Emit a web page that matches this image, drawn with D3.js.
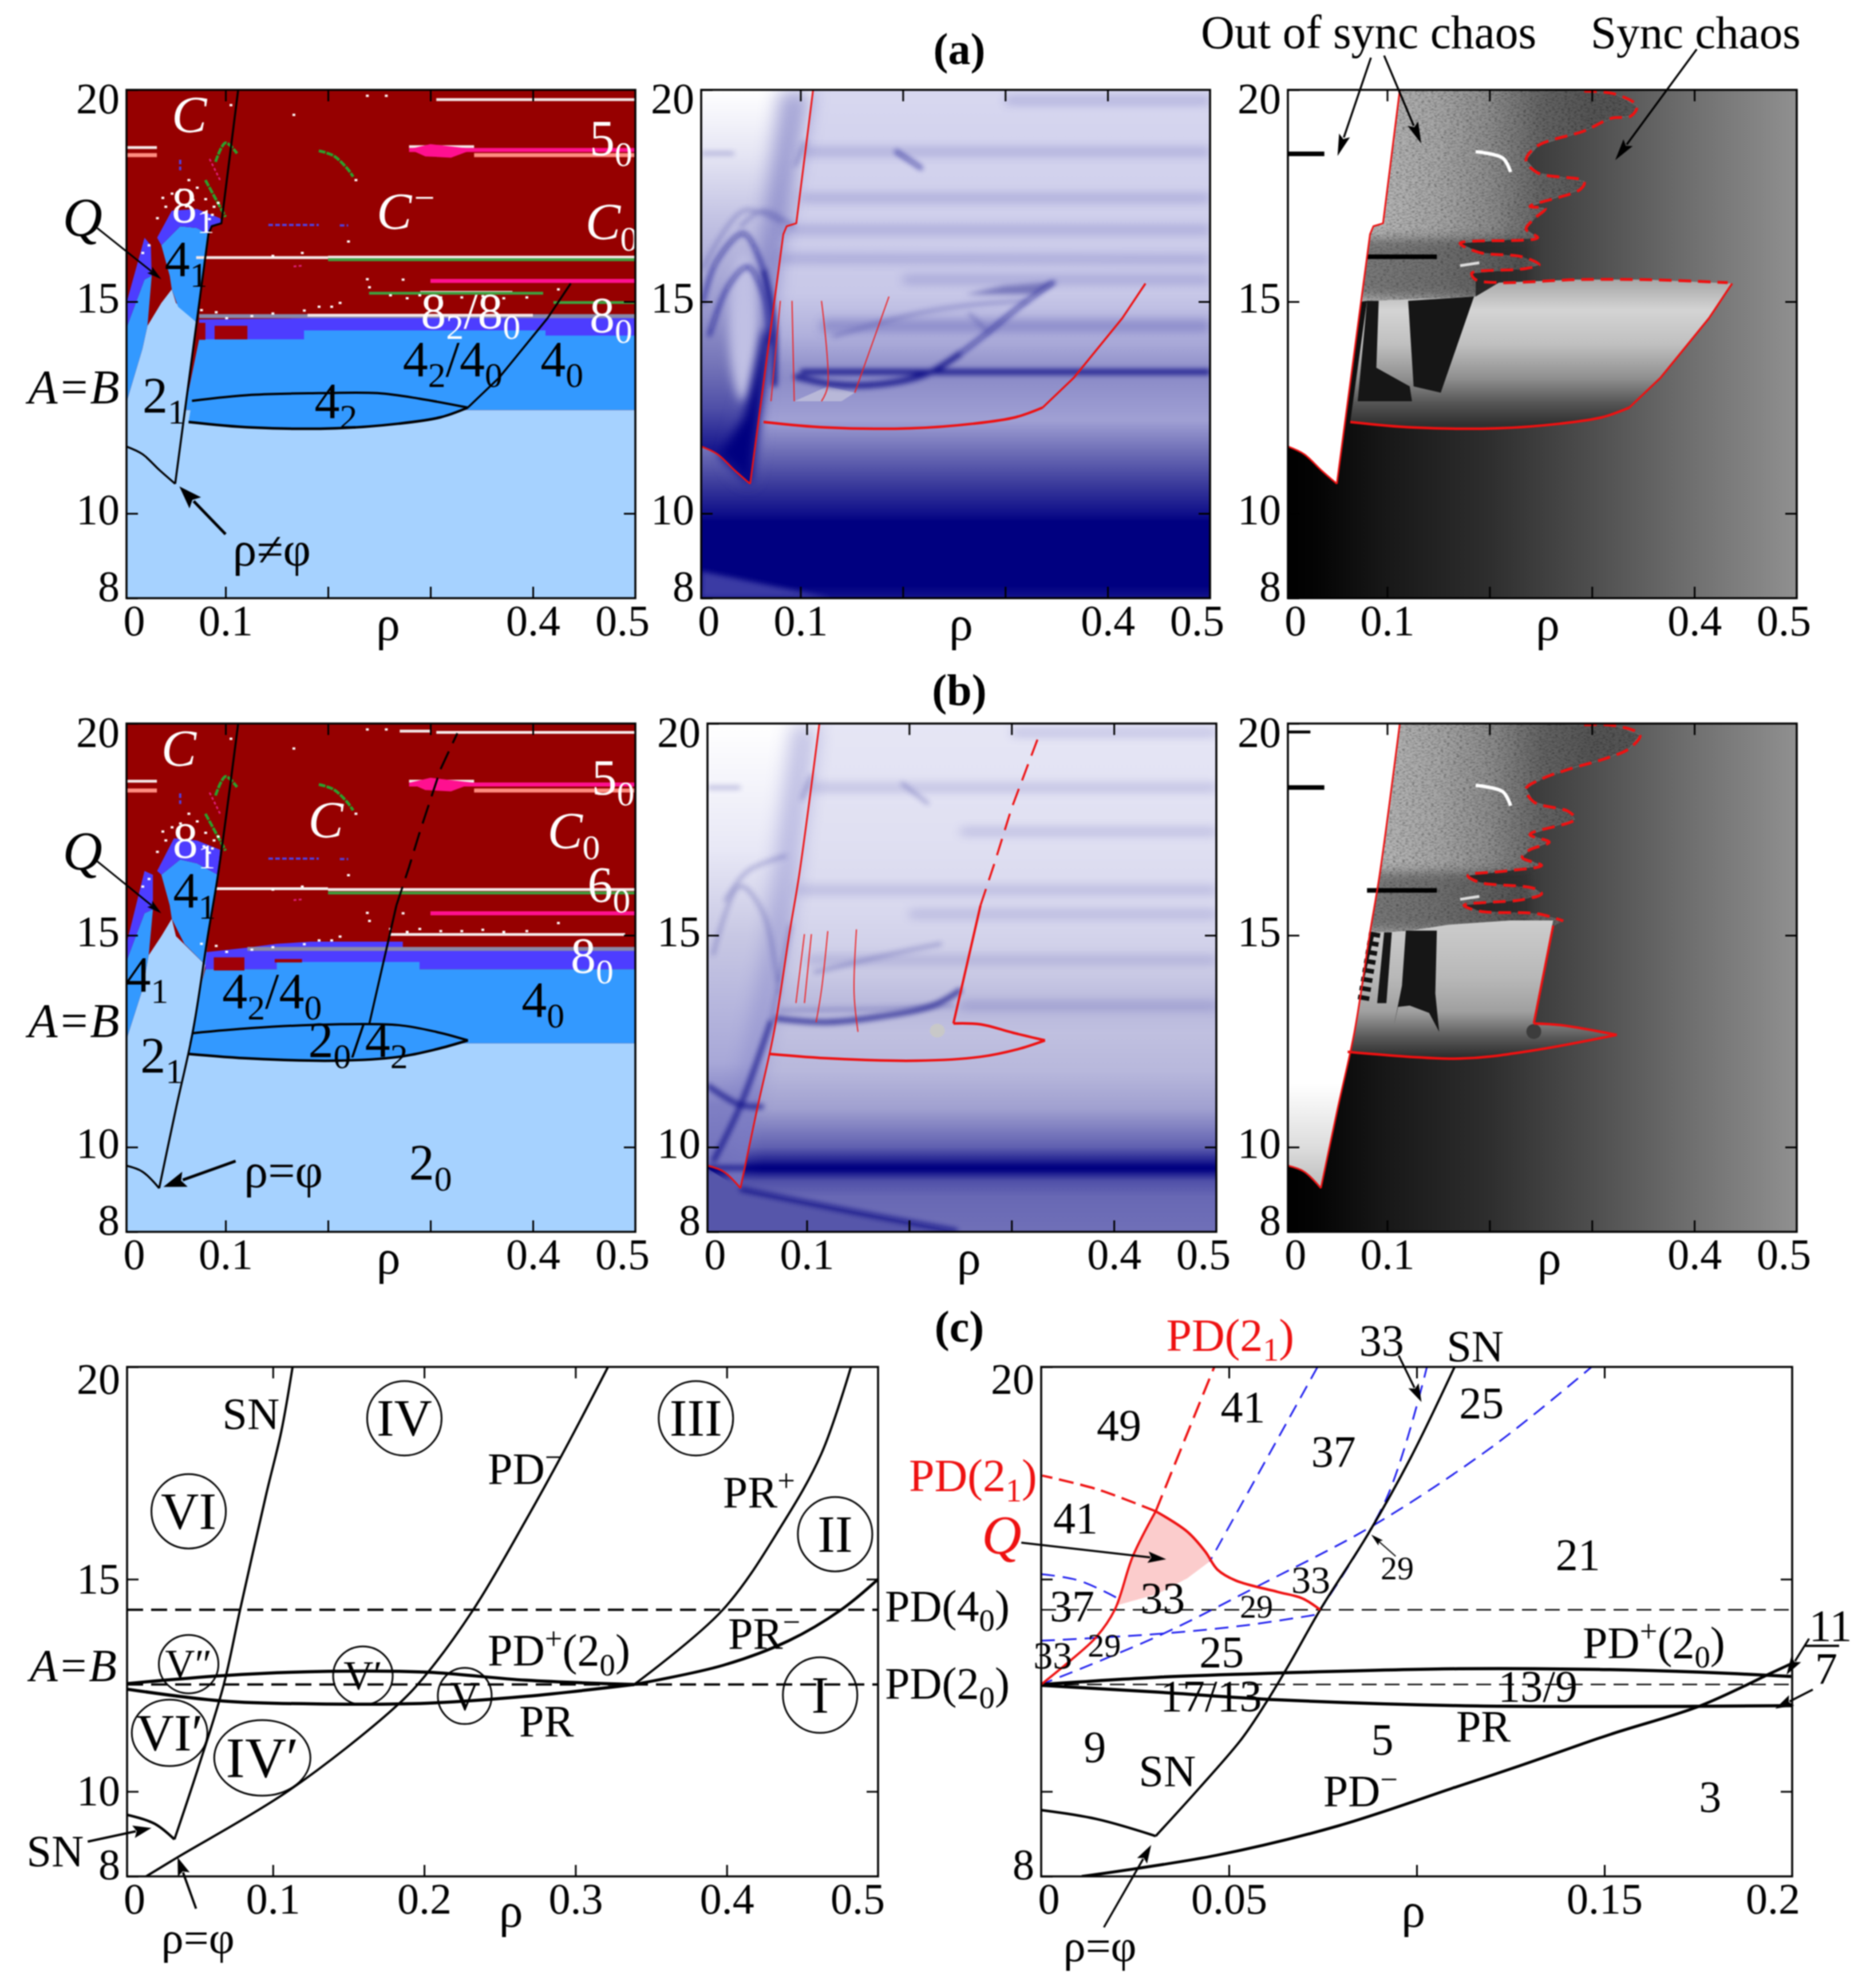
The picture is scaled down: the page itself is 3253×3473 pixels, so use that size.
<!DOCTYPE html>
<html lang="en">
<head>
<meta charset="utf-8">
<title>Bifurcation diagrams in the (rho, A=B) plane</title>
<script src="https://cdnjs.cloudflare.com/ajax/libs/d3/7.8.5/d3.min.js"></script>
<style>
  body { margin: 0; background: #fff; }
  svg { display: block; filter: blur(0.9px); }
  text { font-family: "Liberation Serif", serif; }
</style>
</head>
<body>
<div id="chart"></div>
<script>
// ---- curves, all as [rho, A] ----
var snA = [[.0508,10.70],[.0832,16.59],[.0865,16.78],[.0959,16.85],[.1123,20]];
var cuspA = [[.0033,11.58],[.0189,11.40],[.0352,11.03],[.0508,10.70]];
var lensTopA = [[.0672,12.66],[.1254,12.80],[.191,12.84],[.2484,12.84],[.2893,12.71],[.3365,12.50]];
var lensBotA = [[.0639,12.16],[.1254,12.03],[.2074,12.01],[.2689,12.12],[.3098,12.27],[.3365,12.50]];
var upperA = [[.3365,12.50],[.3672,13.21],[.4143,14.61],[.4369,15.43]];

var snB = [[.0352,9.03],[.0516,10.91],[.068,12.72],[.0832,15.07],[.0926,16.43],[.1123,20]];
var cuspB = [[.0033,9.56],[.0189,9.42],[.0352,9.03]];
var lensTopB = [[.068,12.69],[.1254,12.81],[.2074,12.90],[.2689,12.88],[.3057,12.72],[.3365,12.52]];
var lensBotB = [[.0639,12.20],[.1254,12.09],[.2074,12.04],[.2689,12.13],[.3057,12.31],[.3365,12.52]];
var pdSolidB = [[.2402,12.90],[.2668,15.71]];
var pdDashB = [[.2668,15.71],[.2791,16.61],[.2893,17.42],[.3098,18.92],[.3262,19.77]];
var pdSolidB2 = [[.2432,12.92],[.2697,15.71]];
var pdDashB2 = [[.2697,15.71],[.2833,16.7],[.3,18],[.3265,19.70]];
var lensTipB2 = [[.2432,12.92],[.2697,12.9],[.3015,12.7],[.3326,12.52]];
var lensBotB2 = [[.0639,12.20],[.1254,12.09],[.2074,12.04],[.2689,12.13],[.3057,12.31],[.3326,12.52]];
var lensBotB3 = [[.0614,12.25],[.1712,12.09],[.2394,12.27],[.3242,12.65]];
var lensTipB3 = [[.3242,12.65],[.2697,12.88],[.2432,12.92]];

// red dashed border between out of sync and sync chaos
var chaosEdgeA = [[.2924,19.97],[.3227,19.90],[.3439,19.62],[.3379,19.38],[.3189,19.33],[.2924,19.03],[.247,18.68],[.2356,18.34],[.247,18.04],[.2924,17.84],[.2886,17.65],[.2394,17.25],[.2545,17.20],[.2432,16.95],[.2356,16.71],[.247,16.51],[.1712,16.38],[.1902,16.16],[.2318,16.06],[.2485,15.87],[.2318,15.77],[.1826,15.67],[.1864,15.52],[.2091,15.45],[.2848,15.52],[.353,15.52],[.4326,15.45]];
var chaosEdgeB = [[.2924,19.97],[.3227,19.95],[.347,19.73],[.3364,19.41],[.3152,19.19],[.2773,18.92],[.2508,18.69],[.2356,18.46],[.2432,18.15],[.2773,17.92],[.2833,17.74],[.2394,17.38],[.2583,17.20],[.2394,17.02],[.2318,16.84],[.2508,16.65],[.2167,16.52],[.1788,16.41],[.1902,16.25],[.2432,16.11],[.2508,15.98],[.2318,15.84],[.175,15.71],[.1902,15.57],[.247,15.51],[.272,15.34]];

// thin red lines inside the bowl
var thinA = [
  [[.0803,15.02],[.0712,12.65]],
  [[.0917,15.02],[.0939,12.65]],
  [[.1205,15.02],[.1265,13.0],[.1205,12.65]],
  [[.1864,15.12],[.153,12.85]]
];
var thinB = [
  [[.0894,13.4],[.0977,15.03]],
  [[.0977,13.4],[.1045,15.03]],
  [[.1091,12.95],[.1144,13.72],[.1205,15.10]],
  [[.15,12.72],[.1462,13.63],[.1485,15.14]]
];

// colour regions of the first column
var wedge2A = [[.0033,12.62],[.0189,13.89],[.0238,14.43],[.0373,14.97],[.0475,15.29],[.0516,14.97],[.0713,14.52],[.0508,10.70],[.0033,10.7]];
var blue4A = [[.0475,15.29],[.0455,15.61],[.0373,16.33],[.0557,16.78],[.0721,16.74],[.0832,16.59],[.0713,14.52],[.0537,14.88]];
var purple8A = [[.0373,16.33],[.0332,16.51],[.0475,17.15],[.0721,17.19],[.0947,16.97],[.0967,16.86],[.0865,16.78],[.0832,16.59],[.0721,16.74],[.0557,16.78]];
var blueLeftA = [[.0033,12.62],[.0189,13.89],[.0238,14.43],[.0279,15.61],[.0209,15.52],[.0033,14.38]];
var purpleLeftA = [[.0033,14.38],[.0209,15.52],[.0279,15.61],[.0271,16.33],[.0209,16.51],[.0033,14.97]];
var midBandA = [[.06,12.44],[.5,12.44],[.5,14.2],[.4123,14.2],[.4123,14.32],[.1766,14.32],[.1766,14.11],[.0742,14.11]];
var purpleBandA = [[.0742,14.1],[.5,14.1],[.5,14.68],[.1828,14.68],[.1828,14.61],[.0742,14.58]];
var redBlocksA = [[.0893,.1213,14.11,14.43],[.0742,.0803,14.1,14.5]];

var wedge2B = [[.0033,12.54],[.0189,13.72],[.025,14.53],[.0373,14.98],[.0475,15.39],[.0516,14.98],[.0803,14.3],[.0352,9.03],[.0033,9.56]];
var blue4B = [[.0475,15.39],[.0455,15.71],[.0373,16.43],[.0557,16.79],[.0721,16.7],[.0926,16.43],[.0832,15.07],[.0803,14.3],[.0598,14.8]];
var purple8B = [[.0373,16.43],[.0332,16.52],[.0496,17.29],[.0721,17.24],[.0947,17.02],[.0926,16.43],[.0721,16.7],[.0557,16.79]];
var blueLeftB = [[.0033,12.54],[.0189,13.72],[.025,14.53],[.0291,15.61],[.0209,15.52],[.0033,14.39]];
var purpleLeftB = [[.0033,14.39],[.0209,15.52],[.0291,15.61],[.0291,16.43],[.0209,16.52],[.0033,14.8]];
var midBandB = [[.06,12.45],[.5,12.45],[.5,14.2],[.2893,14.2],[.2893,14.37],[.15,14.37],[.15,14.2],[.0803,14.2]];
var purpleBandB = [[.0803,14.2],[.5,14.2],[.5,14.71],[.273,14.71],[.273,14.85],[.1828,14.85],[.15,14.8],[.1213,14.71],[.0803,14.6]];
var redBlocksB = [[.0885,.1184,14.17,14.48],[.148,.1746,14.36,14.44]];

// thin horizontal windows: [rho0, rho1, A]
var whiteRowsA = [[.3057,.5,19.77],[.2791,.3426,18.66],[.0033,.033,18.64],[.0713,.2,16.04],[.2,.5,16.05],[.29,.38,15.22],[.18,.4,14.68]];
var pinkRowsA = [[.2791,.5,18.58],[.3,.5,15.49]];
var salmonRowsA = [[.3426,.5,18.46],[.0033,.033,18.46]];
var greenRowsA = [[.2,.5,15.99],[.42,.5,14.98],[.24,.41,15.2]];
var whiteRowsB = [[.3057,.5,19.79],[.27,.3,19.82],[.2791,.3426,18.64],[.0033,.033,18.64],[.0903,.2,16.1],[.2,.5,16.08],[.26,.49,15.02]];
var pinkRowsB = [[.2791,.5,18.56],[.3,.5,15.52]];
var salmonRowsB = [[.3426,.5,18.42],[.0033,.033,18.42]];
var greenRowsB = [[.2,.5,16.0]];
var grayRowsB = [[.1213,.5,14.68]];

var pinkBlob = [[.2791,18.6],[.3,18.72],[.3426,18.6],[.32,18.4],[.295,18.43]];
var greenArcs = [
  [[.0902,18.3],[.1,18.75],[.1112,18.5]],
  [[.191,18.56],[.205,18.45],[.2189,18.14],[.2245,17.95]],
  [[.0803,17.87],[.1,17.0]]
];
var purpleStreaks = [[[.1418,16.81],[.191,16.81]],[[.2115,16.8],[.2197,16.8]],[[.0557,18.35],[.0557,18.1]]];
var magentaStreaks = [[[.0844,18.37],[.0951,17.85]],[[.1664,15.83],[.1746,15.85]]];
var specks = [[.105,19.64],[.1664,19.41],[.2381,19.86],[.2566,19.86],[.227,17.87],[.0885,17.24],[.0803,17.42],[.0721,17.69],[.0639,17.87],[.0557,17.64],[.0414,17.24],[.0332,16.97],[.025,16.33],[.0189,16.15],[.0926,17.33],[.2197,16.42],[.1746,16.15],[.1459,16.08],[.2381,15.53],[.273,15.52],[.2402,15.34],[.2607,15.15],[.277,15.08],[.2893,15.15],[.3098,15.1],[.3303,15.1],[.3508,15.13],[.3713,15.08],[.3938,15.1],[.4246,15.29],[.2115,14.97],[.2033,14.88],[.191,14.88],[.1766,14.79],[.1459,14.72],[.1254,14.66],[.1008,14.61],[.0906,14.75],[.0762,14.8],[.0868,17.05],[.0475,17.55],[.068,17.4],[.0615,17.25],[.0786,17.1],[.084,16.95],[.0385,17.45]];

// blue column: background ramps against A
var a2BandA = [8,8.3,9.8,10,10.7,11.4,12.2,13.2,13.5,14.2,15.2,17.15,19,20];
var a2BandC = ["#14148c","#000080","#000080","#10108a","#3c3c9c","#6a6ab4","#a0a0d4","#8c8cc8","#9494cc","#b0b0dc","#c8c8e8","#d0d0ec","#d4d4ee","#d8d8f0"];
var a2WedgeA = [11,11.6,12.5,13.5,15,17,18.5,20];
var a2WedgeC = ["#000080","#1c1c90","#5050a8","#7474b8","#9c9cd0","#c4c4e4","#e6e6f4","#ffffff"];
var b2BandA = [8,8.83,9.2,9.5,9.83,10,10.9,11.8,12.7,13.3,14.2,15.5,17.3,20];
var b2BandC = ["#7070b8","#6868b4","#5050a8","#000080","#4040a0","#6060b0","#a0a0d0","#b8b8dc","#c0c0e0","#b8b8dc","#ccccE6","#d8d8ee","#e0e0f2","#e6e6f5"];
var b2WedgeA = [9,9.5,11,12,15,17,20];
var b2WedgeC = ["#7070bc","#7070bc","#8080c4","#a8a8d8","#c8c8e4","#e8e8f6","#ffffff"];

// soft dark features of the blue column
var a2Strong = [
  [[.1,13.34],[.5,13.34]],
  [[.0939,13.24],[.1318,13.05],[.1773,13.05],[.2227,13.29],[.2568,13.79]],
  [[.0636,15.77],[.0735,14.58],[.0745,13]]
];
var a2Medium = [
  [[.2568,13.79],[.2833,14.28],[.3136,14.88],[.3477,15.47]],
  [[.0045,14.98],[.0182,15.96],[.0447,16.61],[.0636,15.77]],
  [[.0106,14.18],[.0295,15.37],[.0485,15.82],[.0636,15.17],[.0697,13.99]],
  [[.1924,18.56],[.2189,18.14]]
];
var a2Faint = [
  [[.2644,14.73],[.2833,14.28]],
  [[.1318,14.18],[.2152,14.73],[.2682,14.93],[.3212,15.02]],
  [[.0045,15.77],[.0447,17.15],[.0826,16.85]],
  [[.0409,16.76],[.0636,17.15],[.0939,16.76]],
  [[.0033,18.5],[.035,18.5]],[[.095,18.2],[.105,18.8]]
];
var a2Rows = [
  [[.1,18.54],[.5,18.54]],[[.3,19.75],[.5,19.75]],
  [[.1,17.45],[.5,17.45]],[[.08,16.7],[.5,16.7]],[[.08,16.02],[.5,16.0]],
  [[.2,15.52],[.5,15.52]],[[.12,14.5],[.5,14.5]],[[.12,14.36],[.5,14.36]]
];
var a2Lighter = [[.003,8.64],[.13,8],[.003,8]];
var a2Blotch = [[.2985,15.37],[.3515,15.47],[.3288,15.17],[.2606,15.17]];
var a2Pale = [[.0939,12.65],[.1265,13.0],[.153,12.85],[.14,12.65]];
var a2SnShade = [[.0508,10.7],[.0713,14.6],[.0832,16.6],[.1123,20],[.08,20],[.06,16],[.05,13],[.03,11.2]];
var a2Navy = [[.0508,10.7],[.0713,14.3],[.064,14.3],[.045,12.3],[.02,11.4]];
var lobe = [[.0447,14.4]];

var b2Strong = [
  [[.0348,9.01],[.14,8.5],[.247,8.02]],
  [[.0083,9.65],[.0348,10.96],[.0652,12.99]],
  [[.003,11.46],[.0348,11.0],[.0576,10.96]],
  [[.0689,13.04],[.1182,12.95],[.1712,13.08],[.2242,13.35],[.2508,13.72]],
  [[.003,9.51],[.5,9.51]]
];
var b2Faint = [
  [[.0652,12.99],[.0841,15.25]],
  [[.0727,13.22],[.1182,13.24],[.1712,13.26],[.2432,13.35]],
  [[.1068,14.12],[.1939,14.62],[.2318,14.8]],
  [[.0083,14.53],[.0348,16.16],[.0576,15.52],[.0727,13.63]],
  [[.0197,15.8],[.0424,16.52],[.0803,16.88]],
  [[.0033,18.49],[.035,18.49]],[[.1924,18.6],[.2189,18.1]],[[.095,18.2],[.105,18.8]]
];
var b2Rows = [
  [[.25,13.34],[.5,13.34]],
  [[.1,14.42],[.5,14.42]],[[.1,18.49],[.5,18.49]],[[.3,19.79],[.5,19.79]],
  [[.09,16.07],[.5,16.07]],[[.2,15.5],[.5,15.5]],[[.25,17.45],[.5,17.45]]
];
var b2UnderCusp = [[.003,9.5],[.0352,9.0],[.247,8],[.003,8]];
var b2SnShade = [[.0352,9.1],[.0832,15.07],[.1123,20],[.085,20],[.06,15],[.03,11]];
var b2Grey = [[.2275,12.75]];

// grey column: background ramp against rho
var grayRho = [0,.03,.1,.2,.3,.4,.5];
var grayLevel = [0,4,24,46,78,112,144];
var noiseRho = [0,.08,.15,.2,.25,.3,.5];
var noiseLevel = [185,185,165,140,100,84,84];
var darkBand = [[.07,15.1],[.24,15.1],[.24,16.5],[.07,16.5]];
var bowlA3A = [12.1,12.6,13.2,14,14.8,15.5];
var bowlA3C = ["#303030","#555555","#909090","#c0c0c0","#d4d4d4","#a8a8a8"];
var bowlB3A = [12.1,12.6,13.2,14,15.3];
var bowlB3C = ["#2a2a2a","#5a5a5a","#a0a0a0","#b8b8b8","#cccccc"];
var wedgeB3A = [9,10,11.5,20];
var wedgeB3C = ["#bbbbbb","#dddddd","#ffffff","#ffffff"];

var bowlTopA3 = [[.353,15.52],[.2848,15.52],[.2091,15.45],[.1864,15.12],[.0803,15.02]];
var bowlTopB3 = [[.2432,12.92],[.2621,15.35],[.22,15.35],[.16,15.25],[.12,15.1],[.0879,15.07]];
var blackA3 = [
  [[.0803,15.02],[.0917,15.02],[.0894,13.44],[.122,13.0],[.1242,12.65],[.0712,12.65]],
  [[.1205,15.02],[.1848,15.12],[.1523,12.85],[.1258,13.0]]
];
var blackB3 = [
  [[.1182,15.11],[.1485,15.11],[.147,13.63],[.1508,12.72],[.1409,13.17],[.122,13.34],[.1106,13.31],[.1068,12.9],[.1144,13.81]],
  [[.097,15.07],[.1045,15.07],[.0992,13.4],[.0902,13.4]]
];
var checkerB3 = [[.0879,15.07],[.0765,13.45]];
var whiteArc = [[.1864,18.54],[.2129,18.39],[.2205,18.06]];
var blackStreaks = [[[.0023,18.49],[.0386,18.49]],[[.0803,16.06],[.1485,16.06]]];
var fadeStreak = [[.1712,15.85],[.19,15.92]];
var streakTopB3 = [[.0033,19.8],[.025,19.8]];
var blobB3 = [[.2432,12.73]];

// bottom row
var snC = [[.0349,8.87],[.0501,10.5],[.0674,12.5],[.0783,14.28],[.0957,17.02],[.1056,18.49],[.113,20]];
var cuspC = [[.0036,9.45],[.0218,9.24],[.0349,8.87]];
var pdMinusC = [[.0162,8],[.037,8.45],[.1109,10.03],[.1803,11.97],[.2,12.7],[.2324,14.28],[.2672,16.39],[.2932,18.07],[.3215,20]];
var prPlusC = [[.3388,12.52],[.3974,14.28],[.4365,16.28],[.4626,17.96],[.4821,20]];
var prMinusC = [[.3388,12.52],[.3974,12.97],[.4409,13.55],[.4756,14.28],[.5,15]];
var lensTopC = [[.0036,12.54],[.0674,12.73],[.1369,12.83],[.202,12.81],[.2672,12.62],[.3388,12.52]];
var lensBotC = [[.0036,12.41],[.0674,12.13],[.1369,12.06],[.202,12.08],[.2672,12.24],[.3388,12.52]];
var pd40 = 14.28, pd20 = 12.52;

var snD = [[.0305,8.95],[.0421,10.08],[.0534,11.24],[.0598,12.08],[.0662,13.02],[.0743,14.28],[.0871,16.07],[.0984,17.86],[.1101,20]];
var cuspD = [[0,9.56],[.0148,9.35],[.0305,8.95]];
var pdMinusD = [[.0108,8],[.0469,8.5],[.0791,9.19],[.1113,10.13],[.1273,10.6],[.1514,11.34],[.1756,12.02],[.1949,12.81],[.2,13.02]];
var lensTopD = [[0,12.52],[.0309,12.69],[.063,12.79],[.1113,12.89],[.1514,12.87],[.1756,12.81],[.1997,12.71]];
var lensBotD = [[0,12.5],[.0309,12.34],[.063,12.16],[.1113,12.02],[.1514,12],[.2,12.02]];
var redSolidD = [[0,12.52],[.0084,13.13],[.0148,13.65],[.0196,14.28],[.0244,15.54],[.0305,16.6]];
var redDashUpD = [[.0305,16.6],[.0461,20]];
var redDashLeftD = [[.0305,16.6],[.0148,17.12],[.0003,17.44]];
var redCapD = [[.0305,16.6],[.0389,16.12],[.0437,15.65],[.0469,15.23],[.0518,14.97],[.063,14.7],[.0695,14.55],[.0743,14.28]];
var qFill = [[.0305,16.6],[.0389,16.12],[.0437,15.65],[.0449,15.42],[.0389,15.02],[.0309,14.65],[.0204,14.39],[.0244,15.54]];
var blueDashes = [
  [[.0736,20],[.0449,15.42]],
  [[.1029,20.06],[.092,16.91],[.0743,14.28]],
  [[.1474,20.06],[.1209,18.17],[.0887,16.28],[.0582,14.86],[.0309,13.65],[0,12.52]],
  [[0,15.12],[.01,14.97],[.0204,14.55]],
  [[0,13.55],[.0309,13.71],[.055,13.92],[.0743,14.18]]
];

// tick values
var xTicks = [0,.1,.2,.3,.4,.5];
var xTickNames = {0:"0",.1:"0.1",.4:"0.4",.5:"0.5"};
var xTickNamesC = {0:"0",.1:"0.1",.2:"0.2",.3:"0.3",.4:"0.4",.5:"0.5"};
var xTicksD = [0,.05,.1,.15,.2];
var xTickNamesD = {0:"0",.05:"0.05",.15:"0.15",.2:"0.2"};
var yTicks = [8,10,15,20];
var yTickNamesD = {8:"8",20:"20"};

// labels: [text, rho, A]; _x is a subscript, ^x a superscript
var a1White = [["5_0",.4553,18.46],["8_1",.0475,16.88],["8_2/8_0",.2906,14.38],["8_0",.4553,14.29]];
var a1WhiteItalic = [["C",.0475,19.0],["C^−",.2475,16.71],["C",.4512,16.47]];
var a1WhiteSub = [["_0",.4852,16.47]];
var a1Black = [["4_1",.0406,15.61],["4_2/4_0",.273,13.25],["4_0",.4074,13.25],["4_2",.1869,12.26],["2_1",.0189,12.39]];
var b1White = [["5_0",.4574,18.33],["6_0",.4533,15.8],["8_0",.4369,14.12],["8_1",.0484,16.84]];
var b1WhiteItalic = [["C",.0373,19.0],["C",.1807,17.31],["C",.4143,17.06]];
var b1WhiteSub = [["_0",.4483,17.06]];
var b1Black = [["4_1",.0488,15.66],["4_1",.0025,13.67],["4_2/4_0",.0967,13.28],["2_0/4_2",.1807,12.13],["4_0",.3889,13.08],["2_1",.0168,11.77],["2_0",.2791,9.24]];

var cCircles = [["VI",.0443,16.6,65,65],["IV",.1869,18.79,65,65],["III",.3796,18.79,65,65],["II",.4716,16.06,65,65],["V″",.0443,13.0,52,51],["V′",.1595,12.73,52,51],["V",.2268,12.25,47,49],["VI′",.0317,11.38,66,58],["IV′",.093,10.79,84,66],["I",.4617,12.27,65,66]];
var cLabels = [["SN",.0666,18.54],["PD^−",.242,17.25],["PR^+",.3974,16.7],["PD^+(2_0)",.242,12.97],["PR^−",.4009,13.36],["PR",.2628,11.31],["PD(4_0)",.5045,14.02],["PD(2_0)",.5045,12.2],["SN",-.0628,8.24],["ρ=φ",.0262,6.19]];
var dLabels = [["33",.0847,20.27],["SN",.108,20.14],["49",.0148,18.28],["41",.0478,18.7],["37",.0719,17.65],["41",.0032,16.09],["21",.137,15.23],["33",.0264,14.2],["37",.0023,14.02],["PD^+(2_0)",.1442,13.15],["13/9",.1217,12.13],["17/13",.0317,11.89],["9",.0113,10.69],["SN",.026,10.13],["5",.0879,10.87],["PR",.1105,11.18],["PD^−",.0751,9.66],["3",.1752,9.53],["25",.1113,18.8],["25",.0421,12.94],["11",.2045,13.55],["7",.2061,12.55],["ρ=φ",.0059,6.0]];
var dSmall = [["29",.0904,15.0],["29",.0529,14.09],["29",.0124,13.18]];
var dMedium = [["33",.0666,14.68],["33",-.0021,12.9]];
var dRed = [["PD(2_1)",.0333,20.38],["PD(2_1)",-.0352,17.07]];

// arrows: [rho0, A0, rho1, A1]
var a1Arrows = [[-.0254,16.74,.0373,15.53]];
var a1Bold = [[.1,9.51,.0549,10.64]];
var a3Arrows = [[.0841,20.76,.0515,18.44],[.097,20.81,.1333,18.73],[.4023,20.96,.3227,18.34]];
var b1Arrows = [[-.0254,16.75,.0373,15.52]];
var b1Bold = [[.1098,9.67,.0393,9.06]];
var cArrows = [[-.0224,8.82,.0197,9.14],[.0492,7.24,.037,8.45]];
var dArrows = [[.0167,6.8,.0293,8.74],[.0952,20.27,.1013,19.17],[-.0053,15.86,.0333,15.47],[.2045,13.6,.1985,12.75],[.2055,12.4,.1955,11.95]];
var dThinArrows = [[.0944,15.54,.0879,16.05]];

// ---- layout ----
var svg = d3.select("#chart").append("svg").attr("width",3253).attr("height",3473);
var defs = svg.append("defs");
var idCount = 0;

function blurFilter(id, dev) {
  defs.append("filter").attr("id",id).attr("filterUnits","userSpaceOnUse")
    .attr("x",0).attr("y",0).attr("width",3253).attr("height",3473)
    .append("feGaussianBlur").attr("stdDeviation",dev);
}
blurFilter("soft",5);
blurFilter("softMid",9);
blurFilter("softWide",16);

var noise = defs.append("filter").attr("id","noise").attr("filterUnits","userSpaceOnUse")
  .attr("x",0).attr("y",0).attr("width",3253).attr("height",3473)
  .attr("color-interpolation-filters","sRGB");
noise.append("feTurbulence").attr("type","fractalNoise").attr("baseFrequency","0.18 0.6").attr("numOctaves",2).attr("seed",4).attr("result","t");
noise.append("feColorMatrix").attr("in","t").attr("type","matrix")
  .attr("values","1.1 0 0 0 .42  1.1 0 0 0 .42  1.1 0 0 0 .42  0 0 0 0 1").attr("result","g");
noise.append("feBlend").attr("in","SourceGraphic").attr("in2","g").attr("mode","multiply").attr("result","m");
noise.append("feComposite").attr("in","m").attr("in2","SourceAlpha").attr("operator","in");

function panel(left, top, w, h, xDom) {
  var p = {};
  p.x = d3.scaleLinear().domain(xDom).range([left, left+w]);
  p.y = d3.scaleLinear().domain([8,20]).range([top+h, top]);
  p.left = left; p.top = top; p.w = w; p.h = h;
  var id = "clip" + (idCount++);
  defs.append("clipPath").attr("id",id).append("rect")
    .attr("x",left).attr("y",top).attr("width",w).attr("height",h);
  p.marks = svg.append("g").attr("clip-path","url(#"+id+")");
  p.over = svg.append("g");
  p.line = d3.line().x(function(d){return p.x(d[0]);}).y(function(d){return p.y(d[1]);});
  p.poly = function(pts) { return p.line(pts) + "Z"; };
  return p;
}

function area(p, pts, fill, g) {
  return (g||p.marks).append("path").attr("d",p.poly(pts)).attr("fill",fill);
}
function curve(p, pts, color, width, dash, straight) {
  var l = d3.line().x(p.line.x()).y(p.line.y()).curve(straight ? d3.curveLinear : d3.curveCatmullRom.alpha(.5));
  return p.marks.append("path").attr("d",l(pts)).attr("fill","none")
    .attr("stroke",color).attr("stroke-width",width).attr("stroke-dasharray",dash||null)
    .attr("stroke-linejoin","round");
}
function block(p, b, fill) {
  p.marks.append("rect").attr("x",p.x(b[0])).attr("width",p.x(b[1])-p.x(b[0]))
    .attr("y",p.y(b[3])).attr("height",p.y(b[2])-p.y(b[3])).attr("fill",fill);
}
function rows(p, list, color, width) {
  p.marks.selectAll(null).data(list).enter().append("line")
    .attr("x1",function(d){return p.x(d[0]);}).attr("x2",function(d){return p.x(d[1]);})
    .attr("y1",function(d){return p.y(d[2]);}).attr("y2",function(d){return p.y(d[2]);})
    .attr("stroke",color).attr("stroke-width",width);
}
function softLines(p, list, width, color, opacity, blur) {
  var g = p.marks.append("g").attr("filter","url(#"+(blur||"soft")+")").attr("opacity",opacity);
  var l = d3.line().x(p.line.x()).y(p.line.y()).curve(d3.curveCatmullRom.alpha(.5));
  g.selectAll(null).data(list).enter().append("path").attr("d",l).attr("fill","none")
    .attr("stroke",color).attr("stroke-width",width);
}
// vertical gradient over A
function rampY(p, aVals, colors) {
  var id = "ramp" + (idCount++);
  var g = defs.append("linearGradient").attr("id",id).attr("gradientUnits","userSpaceOnUse")
    .attr("x1",0).attr("x2",0).attr("y1",p.y(aVals[0])).attr("y2",p.y(aVals[aVals.length-1]));
  var scale = d3.scaleLinear().domain([aVals[0],aVals[aVals.length-1]]).range([0,1]);
  aVals.forEach(function(a,i){ g.append("stop").attr("offset",scale(a)).attr("stop-color",colors[i]); });
  return "url(#"+id+")";
}
function rampX(p, rho, levels) {
  var id = "ramp" + (idCount++);
  var g = defs.append("linearGradient").attr("id",id).attr("gradientUnits","userSpaceOnUse")
    .attr("y1",0).attr("y2",0).attr("x1",p.x(rho[0])).attr("x2",p.x(rho[rho.length-1]));
  rho.forEach(function(r,i){ g.append("stop").attr("offset",r/rho[rho.length-1]).attr("stop-color",d3.rgb(levels[i],levels[i],levels[i])); });
  return "url(#"+id+")";
}
function background(p, fill) {
  p.marks.append("rect").attr("x",p.left).attr("y",p.top).attr("width",p.w).attr("height",p.h).attr("fill",fill);
}

function rich(sel, str) {
  var i = 0, shift = 0;
  while (i < str.length) {
    var c = str[i], target = 0, small = false, t = "";
    if (c === "_" || c === "^") { target = c === "_" ? .22 : -.36; small = true; t = str[i+1]; i += 2; }
    else { while (i < str.length && str[i] !== "_" && str[i] !== "^") t += str[i++]; }
    var sp = sel.append("tspan").text(t);
    var base = small ? .7 : 1;
    sp.attr("font-size",(base*parseFloat(sel.attr("font-size")))+"px");
    sp.attr("dy",((target-shift)*parseFloat(sel.attr("font-size")))+"px");
    shift = target;
  }
}
function labels(p, list, size, color, italic) {
  list.forEach(function(d) {
    var t = p.over.append("text").attr("x",p.x(d[1])).attr("y",p.y(d[2]))
      .attr("font-size",size).attr("fill",color).attr("font-style",italic?"italic":null);
    rich(t, d[0]);
  });
}
function freeText(str, x, y, size, weight, color, anchor) {
  svg.append("text").attr("x",x).attr("y",y).attr("font-size",size).attr("font-weight",weight||null)
    .attr("fill",color||"#000").attr("text-anchor",anchor||"start").text(str);
}
function arrows(p, list, width, headLen, headW, color) {
  list.forEach(function(a) {
    var x0=p.x(a[0]), y0=p.y(a[1]), x1=p.x(a[2]), y1=p.y(a[3]);
    var len=Math.hypot(x1-x0,y1-y0), ux=(x1-x0)/len, uy=(y1-y0)/len;
    var bx=x1-ux*headLen, by=y1-uy*headLen;
    p.over.append("line").attr("x1",x0).attr("y1",y0).attr("x2",bx+ux*4).attr("y2",by+uy*4)
      .attr("stroke",color||"#000").attr("stroke-width",width);
    p.over.append("path").attr("fill",color||"#000")
      .attr("d","M"+x1+","+y1+"L"+(bx-uy*headW)+","+(by+ux*headW)+"L"+(bx+ux*headLen*.18)+","+(by+uy*headLen*.18)+"L"+(bx+uy*headW)+","+(by-ux*headW)+"Z");
  });
}

function frame(p, xVals, xNames, yNames, nudge0, nudgeEnd, xEnd, xLabel, yNudge) {
  var b = p.top+p.h, r = p.left+p.w;
  var ax = p.over.append("g").attr("transform","translate(0,"+b+")")
    .call(d3.axisBottom(p.x).tickValues(xVals).tickSizeInner(-20).tickSizeOuter(0)
      .tickFormat(function(d){ return xNames[d]||""; }));
  ax.select(".domain").remove();
  ax.selectAll(".tick text").attr("y",65).attr("dy",0).attr("font-size",76).attr("font-family",null).attr("fill","#000")
    .attr("dx",function(d){ return d===0 ? nudge0 : (d===xEnd ? nudgeEnd : 0); });
  ax.selectAll(".tick").filter(function(d){return d===0||d===xEnd;}).select("line").remove();
  ax.selectAll(".tick line").attr("stroke-width",3);

  var at = p.over.append("g").attr("transform","translate(0,"+p.top+")")
    .call(d3.axisTop(p.x).tickValues(xVals.filter(function(d){return d!==0&&d!==xEnd;})).tickSizeInner(-20).tickSizeOuter(0).tickFormat(""));
  at.select(".domain").remove();
  at.selectAll(".tick line").attr("stroke-width",3);

  var ay = p.over.append("g").attr("transform","translate("+p.left+",0)")
    .call(d3.axisLeft(p.y).tickValues(yTicks).tickSizeInner(-20).tickSizeOuter(0).tickPadding(12)
      .tickFormat(function(d){ return yNames ? (yNames[d]||"") : d; }));
  ay.select(".domain").remove();
  ay.selectAll(".tick text").attr("font-size",76).attr("font-family",null).attr("fill","#000")
    .attr("y",function(d){ return d===20 ? 22+yNudge : (d===8 ? -20 : yNudge); });
  ay.selectAll(".tick line").attr("stroke-width",3);

  var ar = p.over.append("g").attr("transform","translate("+r+",0)")
    .call(d3.axisRight(p.y).tickValues([10,15]).tickSizeInner(-20).tickSizeOuter(0).tickFormat(""));
  ar.select(".domain").remove();
  ar.selectAll(".tick line").attr("stroke-width",3);

  p.over.append("rect").attr("x",p.left).attr("y",p.top).attr("width",p.w).attr("height",p.h)
    .attr("fill","none").attr("stroke","#000").attr("stroke-width",3.5);

  p.over.append("text").attr("x",p.x(xLabel[0])).attr("y",p.y(xLabel[1]))
    .attr("text-anchor","middle").attr("font-size",84).text("ρ");
}

// ---- first column: attractor maps ----
function mapPanel(p, r) {
  background(p,"#960000");
  area(p,r.purpleBand,"#4d3dff");
  rows(p,r.gray,"#8888a8",7);
  area(p,r.midBand,"#3399ff");
  r.redBlocks.forEach(function(b){ block(p,b,"#a00008"); });
  block(p,[p.x.domain()[0],.5,8,r.lightTop],"#a6d2ff");
  area(p,r.purpleLeft,"#4d3dff");
  area(p,r.blueLeft,"#3399ff");
  area(p,r.wedge,"#a6d2ff");
  area(p,r.blue4,"#3399ff");
  area(p,r.purple8,"#4d3dff");
  area(p,r.lens,"#3399ff");
  rows(p,r.white,"#f4e8e8",5);
  rows(p,r.pink,"#ff1090",7);
  rows(p,r.salmon,"#ff8c80",7);
  rows(p,r.green,"#3ea03e",5);
  area(p,pinkBlob,"#ff1090");
  greenArcs.forEach(function(c){ curve(p,c,"#2ca02c",5,"12 2"); });
  purpleStreaks.forEach(function(c){ curve(p,c,"#5040e0",4,"8 4",true); });
  magentaStreaks.forEach(function(c){ curve(p,c,"#e02080",3,"5 4",true); });
  p.marks.selectAll(null).data(specks).enter().append("rect")
    .attr("x",function(d){return p.x(d[0])-2;}).attr("y",function(d){return p.y(d[1])-2;})
    .attr("width",5).attr("height",4).attr("fill","#fff");
}

var a1 = panel(221,157,889,888,[.0033,.5]);
mapPanel(a1,{purpleBand:purpleBandA,gray:[[.0742,.5,14.66]],midBand:midBandA,redBlocks:redBlocksA,lightTop:12.44,
  purpleLeft:purpleLeftA,blueLeft:blueLeftA,wedge:wedge2A,blue4:blue4A,purple8:purple8A,
  lens:lensTopA.concat(lensBotA.slice().reverse()),white:whiteRowsA,pink:pinkRowsA,salmon:salmonRowsA,green:greenRowsA});
curve(a1,snA,"#000",3.5,null,true);
curve(a1,cuspA,"#000",3.5);
curve(a1,lensTopA,"#000",4);
curve(a1,lensBotA,"#000",4.5);
curve(a1,upperA,"#000",3.5,null,true);
labels(a1,a1White,88,"#fff");
labels(a1,a1WhiteItalic,92,"#fff",true);
labels(a1,a1WhiteSub,88,"#fff");
labels(a1,a1Black,88,"#000");
labels(a1,[["A=B",-.0926,12.59]],84,"#000",true);
labels(a1,[["Q",-.059,16.56]],96,"#000",true);
labels(a1,[["ρ≠φ",.107,8.77]],84,"#000");
arrows(a1,a1Arrows,3,26,7);
arrows(a1,a1Bold,5,40,14);
frame(a1,xTicks,xTickNames,null,19,-23,.5,[.2586,7.02],-6);

var b1 = panel(221,1264,889,888,[.0033,.5]);
mapPanel(b1,{purpleBand:purpleBandB,gray:grayRowsB,midBand:midBandB,redBlocks:redBlocksB,lightTop:12.45,
  purpleLeft:purpleLeftB,blueLeft:blueLeftB,wedge:wedge2B,blue4:blue4B,purple8:purple8B,
  lens:lensTopB.concat(lensBotB.slice().reverse()),white:whiteRowsB,pink:pinkRowsB,salmon:salmonRowsB,green:greenRowsB});
curve(b1,snB,"#000",3.5);
curve(b1,cuspB,"#000",3.5);
curve(b1,lensTopB,"#000",4);
curve(b1,lensBotB,"#000",4.5);
curve(b1,pdSolidB,"#000",3.5,null,true);
curve(b1,pdDashB,"#000",3.5,"34 16",true);
labels(b1,b1White,88,"#fff");
labels(b1,b1WhiteItalic,92,"#fff",true);
labels(b1,b1WhiteSub,88,"#fff");
labels(b1,b1Black,88,"#000");
labels(b1,[["A=B",-.0926,12.59]],84,"#000",true);
labels(b1,[["Q",-.059,16.56]],96,"#000",true);
labels(b1,[["ρ=φ",.118,9.06]],84,"#000");
arrows(b1,b1Arrows,3,26,7);
arrows(b1,b1Bold,5,40,14);
frame(b1,xTicks,xTickNames,null,19,-23,.5,[.2591,7.02],-6);

// ---- second column: blue maps ----
var a2 = panel(1225,157,889,888,[.003,.5]);
background(a2,rampY(a2,a2BandA,a2BandC));
area(a2,a2Lighter,"#3a3aa4").attr("filter","url(#soft)");
area(a2,[[.003,20]].concat(snA.slice().reverse()).concat(cuspA.slice().reverse()),rampY(a2,a2WedgeA,a2WedgeC));
area(a2,a2SnShade,"#6464b8").attr("filter","url(#softWide)").attr("opacity",.55);
a2.marks.selectAll(null).data(lobe).enter().append("ellipse")
  .attr("cx",function(d){return a2.x(d[0]);}).attr("cy",function(d){return a2.y(d[1]);})
  .attr("rx",26).attr("ry",130).attr("fill","#c0c0e4").attr("filter","url(#softMid)");
area(a2,a2Navy,"#000080").attr("filter","url(#softMid)");
area(a2,a2Blotch,"#7878bc").attr("filter","url(#soft)");
area(a2,a2Pale,"#b8b8d8");
softLines(a2,a2Rows,9,"#3c3ca4",.42,"softMid");
softLines(a2,a2Strong,9,"#000080",.85);
softLines(a2,a2Medium,6,"#10108a",.7);
softLines(a2,a2Faint,4,"#30309a",.5);
curve(a2,snA,"#ee1111",3,null,true);
curve(a2,cuspA,"#ee1111",3);
curve(a2,lensBotA,"#ee1111",4.5);
curve(a2,upperA,"#ee1111",3.5,null,true);
thinA.forEach(function(c){ curve(a2,c,"#ee2222",2); });
frame(a2,xTicks,xTickNames,null,18,-23,.5,[.2568,7.02],-6);

var b2 = panel(1236,1264,889,888,[.003,.5]);
background(b2,rampY(b2,b2BandA,b2BandC));
area(b2,b2UnderCusp,"#5656aa");
area(b2,[[.003,20]].concat(snB.slice().reverse()).concat(cuspB.slice().reverse()),rampY(b2,b2WedgeA,b2WedgeC));
area(b2,b2SnShade,"#8080c8").attr("filter","url(#softWide)").attr("opacity",.45);
softLines(b2,b2Rows,8,"#4848aa",.42,"softMid");
softLines(b2,b2Strong,7,"#000080",.85);
softLines(b2,b2Faint,4,"#30309a",.5);
b2.marks.selectAll(null).data(b2Grey).enter().append("ellipse")
  .attr("cx",function(d){return b2.x(d[0]);}).attr("cy",function(d){return b2.y(d[1]);})
  .attr("rx",13).attr("ry",12).attr("fill","#c8c8c8");
curve(b2,snB,"#ee1111",3);
curve(b2,cuspB,"#ee1111",3);
curve(b2,lensBotB2,"#ee1111",4.5);
curve(b2,lensTipB2,"#ee1111",4.5);
curve(b2,pdSolidB2,"#ee1111",4,null,true);
curve(b2,pdDashB2,"#ee1111",3.5,"30 16",true);
thinB.forEach(function(c){ curve(b2,c,"#ee2222",2); });
frame(b2,xTicks,xTickNames,null,18,-23,.5,[.2583,7.0],-6);

// ---- third column: grey maps ----
function grayPanel(p, r) {
  background(p,rampX(p,grayRho,grayLevel));
  area(p,r.noisy,rampX(p,noiseRho,noiseLevel)).attr("filter","url(#noise)");
  area(p,darkBand,"#222").attr("filter","url(#softMid)").attr("opacity",.42);
  area(p,r.bowl,rampY(p,r.bowlA,r.bowlC));
  r.black.forEach(function(b){ area(p,b,"#161616"); });
  area(p,r.wedge,r.wedgeFill);
  curve(p,whiteArc,"#fff",6);
  blackStreaks.forEach(function(c){ curve(p,c,"#000",8,null,true); });
  curve(p,fadeStreak,"#ddd",5,null,true);
  curve(p,r.edge,"#ee1111",5,"22 12");
}

var a3 = panel(2250,157,889,888,[.003,.5]);
grayPanel(a3,{
  noisy:[[.0745,15]].concat(snA.slice(1)).concat(chaosEdgeA.slice(0,23)).concat([[.1864,15.12],[.0803,15.02]]),
  bowl:lensBotA.concat(upperA.slice(1)).concat(bowlTopA3),
  bowlA:bowlA3A,bowlC:bowlA3C,black:blackA3,
  wedge:[[.003,20]].concat(snA.slice().reverse()).concat(cuspA.slice().reverse()),wedgeFill:"#fff",edge:chaosEdgeA});
curve(a3,snA,"#ee1111",3,null,true);
curve(a3,cuspA,"#ee1111",3);
curve(a3,lensBotA,"#ee1111",4.5);
curve(a3,upperA,"#ee1111",3.5,null,true);
arrows(a3,a3Arrows,3.5,38,10);
frame(a3,xTicks,xTickNames,null,18,-23,.5,[.2568,7.02],-6);

var b3 = panel(2250,1264,889,888,[.003,.5]);
grayPanel(b3,{
  noisy:[[.0832,15.07],[.0926,16.43],[.1123,20]].concat(chaosEdgeB).concat([[.2621,15.23],[.0879,15.07]]),
  bowl:lensBotB3.concat(lensTipB3.slice(1)).concat(bowlTopB3.slice(1)),
  bowlA:bowlB3A,bowlC:bowlB3C,black:blackB3,
  wedge:[[.003,20]].concat(snB.slice().reverse()).concat(cuspB.slice().reverse()),wedgeFill:rampY(b3,wedgeB3A,wedgeB3C),edge:chaosEdgeB});
curve(b3,checkerB3,"#111",20,"8 8",true);
curve(b3,streakTopB3,"#000",5,null,true);
b3.marks.selectAll(null).data(blobB3).enter().append("ellipse")
  .attr("cx",function(d){return b3.x(d[0]);}).attr("cy",function(d){return b3.y(d[1]);})
  .attr("rx",13).attr("ry",13).attr("fill","#3c3c3c");
curve(b3,snB,"#ee1111",3);
curve(b3,cuspB,"#ee1111",3);
curve(b3,lensBotB3,"#ee1111",4.5);
curve(b3,lensTipB3,"#ee1111",4.5);
curve(b3,[[.2432,12.92],[.2621,15.23]],"#ee1111",4,null,true);
frame(b3,xTicks,xTickNames,null,18,-23,.5,[.2583,7.0],-6);

// ---- bottom row: sketches ----
var c1 = panel(222,2388,1312,890,[.0036,.5]);
curve(c1,[[.0036,pd40],[.5,pd40]],"#000",4,"28 14",true);
curve(c1,[[.0036,pd20],[.5,pd20]],"#000",4,"28 14",true);
curve(c1,snC,"#000",4);
curve(c1,cuspC,"#000",4.5);
curve(c1,pdMinusC,"#000",4);
curve(c1,prPlusC,"#000",4);
curve(c1,prMinusC,"#000",5);
curve(c1,lensTopC,"#000",5.5);
curve(c1,lensBotC,"#000",5.5);
cCircles.forEach(function(d) {
  c1.over.append("ellipse").attr("cx",c1.x(d[1])).attr("cy",c1.y(d[2])).attr("rx",d[3]).attr("ry",d[4])
    .attr("fill","none").attr("stroke","#000").attr("stroke-width",3);
  c1.over.append("text").attr("x",c1.x(d[1])).attr("y",c1.y(d[2])).attr("dy",".33em")
    .attr("text-anchor","middle").attr("font-size",d[3]>75?100:(d[3]>60?92:72)).text(d[0]);
});
labels(c1,cLabels,78,"#000");
labels(c1,[["A=B",-.0607,12.6]],80,"#000",true);
arrows(c1,cArrows,4,32,11);
frame(c1,xTicks,xTickNamesC,null,22,-36,.5,[.2574,6.82],0);

var c2 = panel(1819,2388,1312,890,[0,.2]);
area(c2,qFill,"#fbcccc");
curve(c2,[[0,pd40],[.2,pd40]],"#000",2.5,"26 14",true);
curve(c2,[[0,pd20],[.2,pd20]],"#000",2.5,"26 14",true);
blueDashes.forEach(function(c){ curve(c2,c,"#1a1aee",3,"24 14"); });
curve(c2,snD,"#000",4);
curve(c2,cuspD,"#000",4.5);
curve(c2,pdMinusD,"#000",5);
curve(c2,lensTopD,"#000",5.5);
curve(c2,lensBotD,"#000",5.5);
curve(c2,redSolidD,"#ee1111",4);
curve(c2,redCapD,"#ee1111",4.5);
curve(c2,redDashUpD,"#ee1111",4,"30 14",true);
curve(c2,redDashLeftD,"#ee1111",4,"26 12");
labels(c2,dLabels,78,"#000");
labels(c2,dSmall,58,"#000");
labels(c2,dMedium,68,"#000");
labels(c2,dRed,80,"#ee1111");
labels(c2,[["Q",-.0158,15.6]],96,"#ee1111",true);
arrows(c2,dArrows,3.5,32,10);
arrows(c2,dThinArrows,2,22,6);
c2.over.append("line").attr("x1",c2.x(.2035)).attr("x2",c2.x(.2125)).attr("y1",c2.y(13.43)).attr("y2",c2.y(13.43))
  .attr("stroke","#000").attr("stroke-width",4);
frame(c2,xTicksD,xTickNamesD,yTickNamesD,13,-34,.2,[.0991,6.82],0);

// ---- titles ----
freeText("(a)",1676,112,78,"bold","#000","middle");
freeText("(b)",1676,1232,78,"bold","#000","middle");
freeText("(c)",1676,2344,78,"bold","#000","middle");
freeText("Out of sync chaos",2098,84,81.5);
freeText("Sync chaos",2779,84,81);
</script>
</body>
</html>
